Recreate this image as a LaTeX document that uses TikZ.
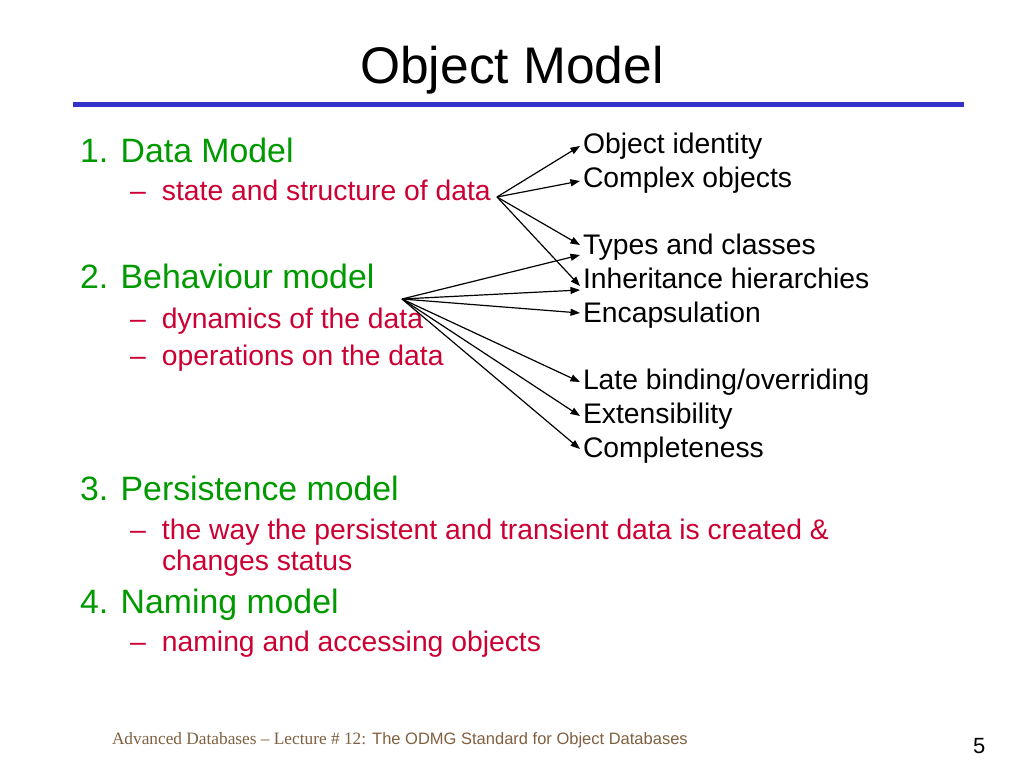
\documentclass[tikz,border=0pt]{standalone}
\usepackage{fontspec}
\setmainfont{Liberation Sans}
\newfontfamily\footserif{Liberation Serif}
\usetikzlibrary{arrows.meta}
\definecolor{titleblue}{RGB}{51,51,204}
\definecolor{itemgreen}{RGB}{0,153,0}
\definecolor{subred}{RGB}{204,0,51}
\definecolor{footbrown}{RGB}{128,96,64}
\tikzset{
  txt/.style={anchor=base west, inner sep=0pt, outer sep=0pt},
  mainitem/.style={txt, text=itemgreen, font=\fontsize{33.8}{40}\selectfont},
  subitem/.style={txt, text=subred, font=\fontsize{28.3}{34}\selectfont},
  rightitem/.style={txt, text=black, font=\fontsize{28.3}{34}\selectfont},
  conn/.style={line width=1.2pt, -{Triangle[length=9.5pt,width=7pt]}},
}
\newcommand{\subdash}{–\hspace{16.2pt}}
\begin{document}
\begin{tikzpicture}[x=1pt,y=-1pt]
\useasboundingbox (0,0) rectangle (1024,768);
\fill[white] (0,0) rectangle (1024,768);
% title
\node[anchor=base, inner sep=0pt, font=\fontsize{51.5}{60}\selectfont] (title) at (512,83) {Object Model};
\coordinate (ruleL) at (73,104.5);
\coordinate (ruleR) at (964,104.5);
\draw[titleblue, line width=4.5pt] (ruleL) -- (ruleR);
% left column
\node[mainitem] (m1) at (80,162) {1. Data Model};
\node[subitem] (s1) at (130,200) {\subdash state and structure of data};
\node[mainitem] (m2) at (80,288) {2. Behaviour model};
\node[subitem] (s2a) at (130,328) {\subdash dynamics of the data};
\node[subitem] (s2b) at (130,365) {\subdash operations on the data};
\node[mainitem] (m3) at (80,500) {3. Persistence model};
\node[subitem] (s3a) at (130,539) {\subdash the way the persistent and transient data is created \&};
\node[subitem] (s3b) at (162,570) {changes status};
\node[mainitem] (m4) at (80,613) {4. Naming model};
\node[subitem] (s4) at (130,651) {\subdash naming and accessing objects};
% right column
\node[rightitem] (oi) at (583,153) {Object identity};
\node[rightitem] (co) at (583,187) {Complex objects};
\node[rightitem] (tc) at (583,254) {Types and classes};
\node[rightitem] (ih) at (583,288) {Inheritance hierarchies};
\node[rightitem] (en) at (583,322) {Encapsulation};
\node[rightitem] (lb) at (583,389) {Late binding/overriding};
\node[rightitem] (ex) at (583,423) {Extensibility};
\node[rightitem] (cp) at (583,457) {Completeness};
% sources
\coordinate (dsrc) at (497,197);
\coordinate (bsrc) at (402,299);
% data arrows
\draw[conn] (dsrc) -- ([shift={(-3,-7)}]oi.base west);
\draw[conn] (dsrc) -- ([shift={(-3,-6)}]co.base west);
\draw[conn] (dsrc) -- ([shift={(-3,-9)}]tc.base west);
\draw[conn] (dsrc) -- ([shift={(-3,-2)}]ih.base west);
% behaviour arrows
\draw[conn] (bsrc) -- ([shift={(-3,1)}]tc.base west);
\draw[conn] (bsrc) -- ([shift={(-3,2)}]ih.base west);
\draw[conn] (bsrc) -- ([shift={(-3,-9)}]en.base west);
\draw[conn] (bsrc) -- ([shift={(-3,-7)}]lb.base west);
\draw[conn] (bsrc) -- ([shift={(-3,-7)}]ex.base west);
\draw[conn] (bsrc) -- ([shift={(-3,-8)}]cp.base west);
% footer
\node[txt, text=footbrown, font=\fontsize{16.5}{20}\selectfont] (foot) at (112,744) {{\footserif\fontsize{17.3}{20}\selectfont Advanced Databases – Lecture \# 12:} The ODMG Standard for Object Databases};
\node[txt, font=\fontsize{22}{26}\selectfont] (pnum) at (973,753) {5};
\end{tikzpicture}
\end{document}
